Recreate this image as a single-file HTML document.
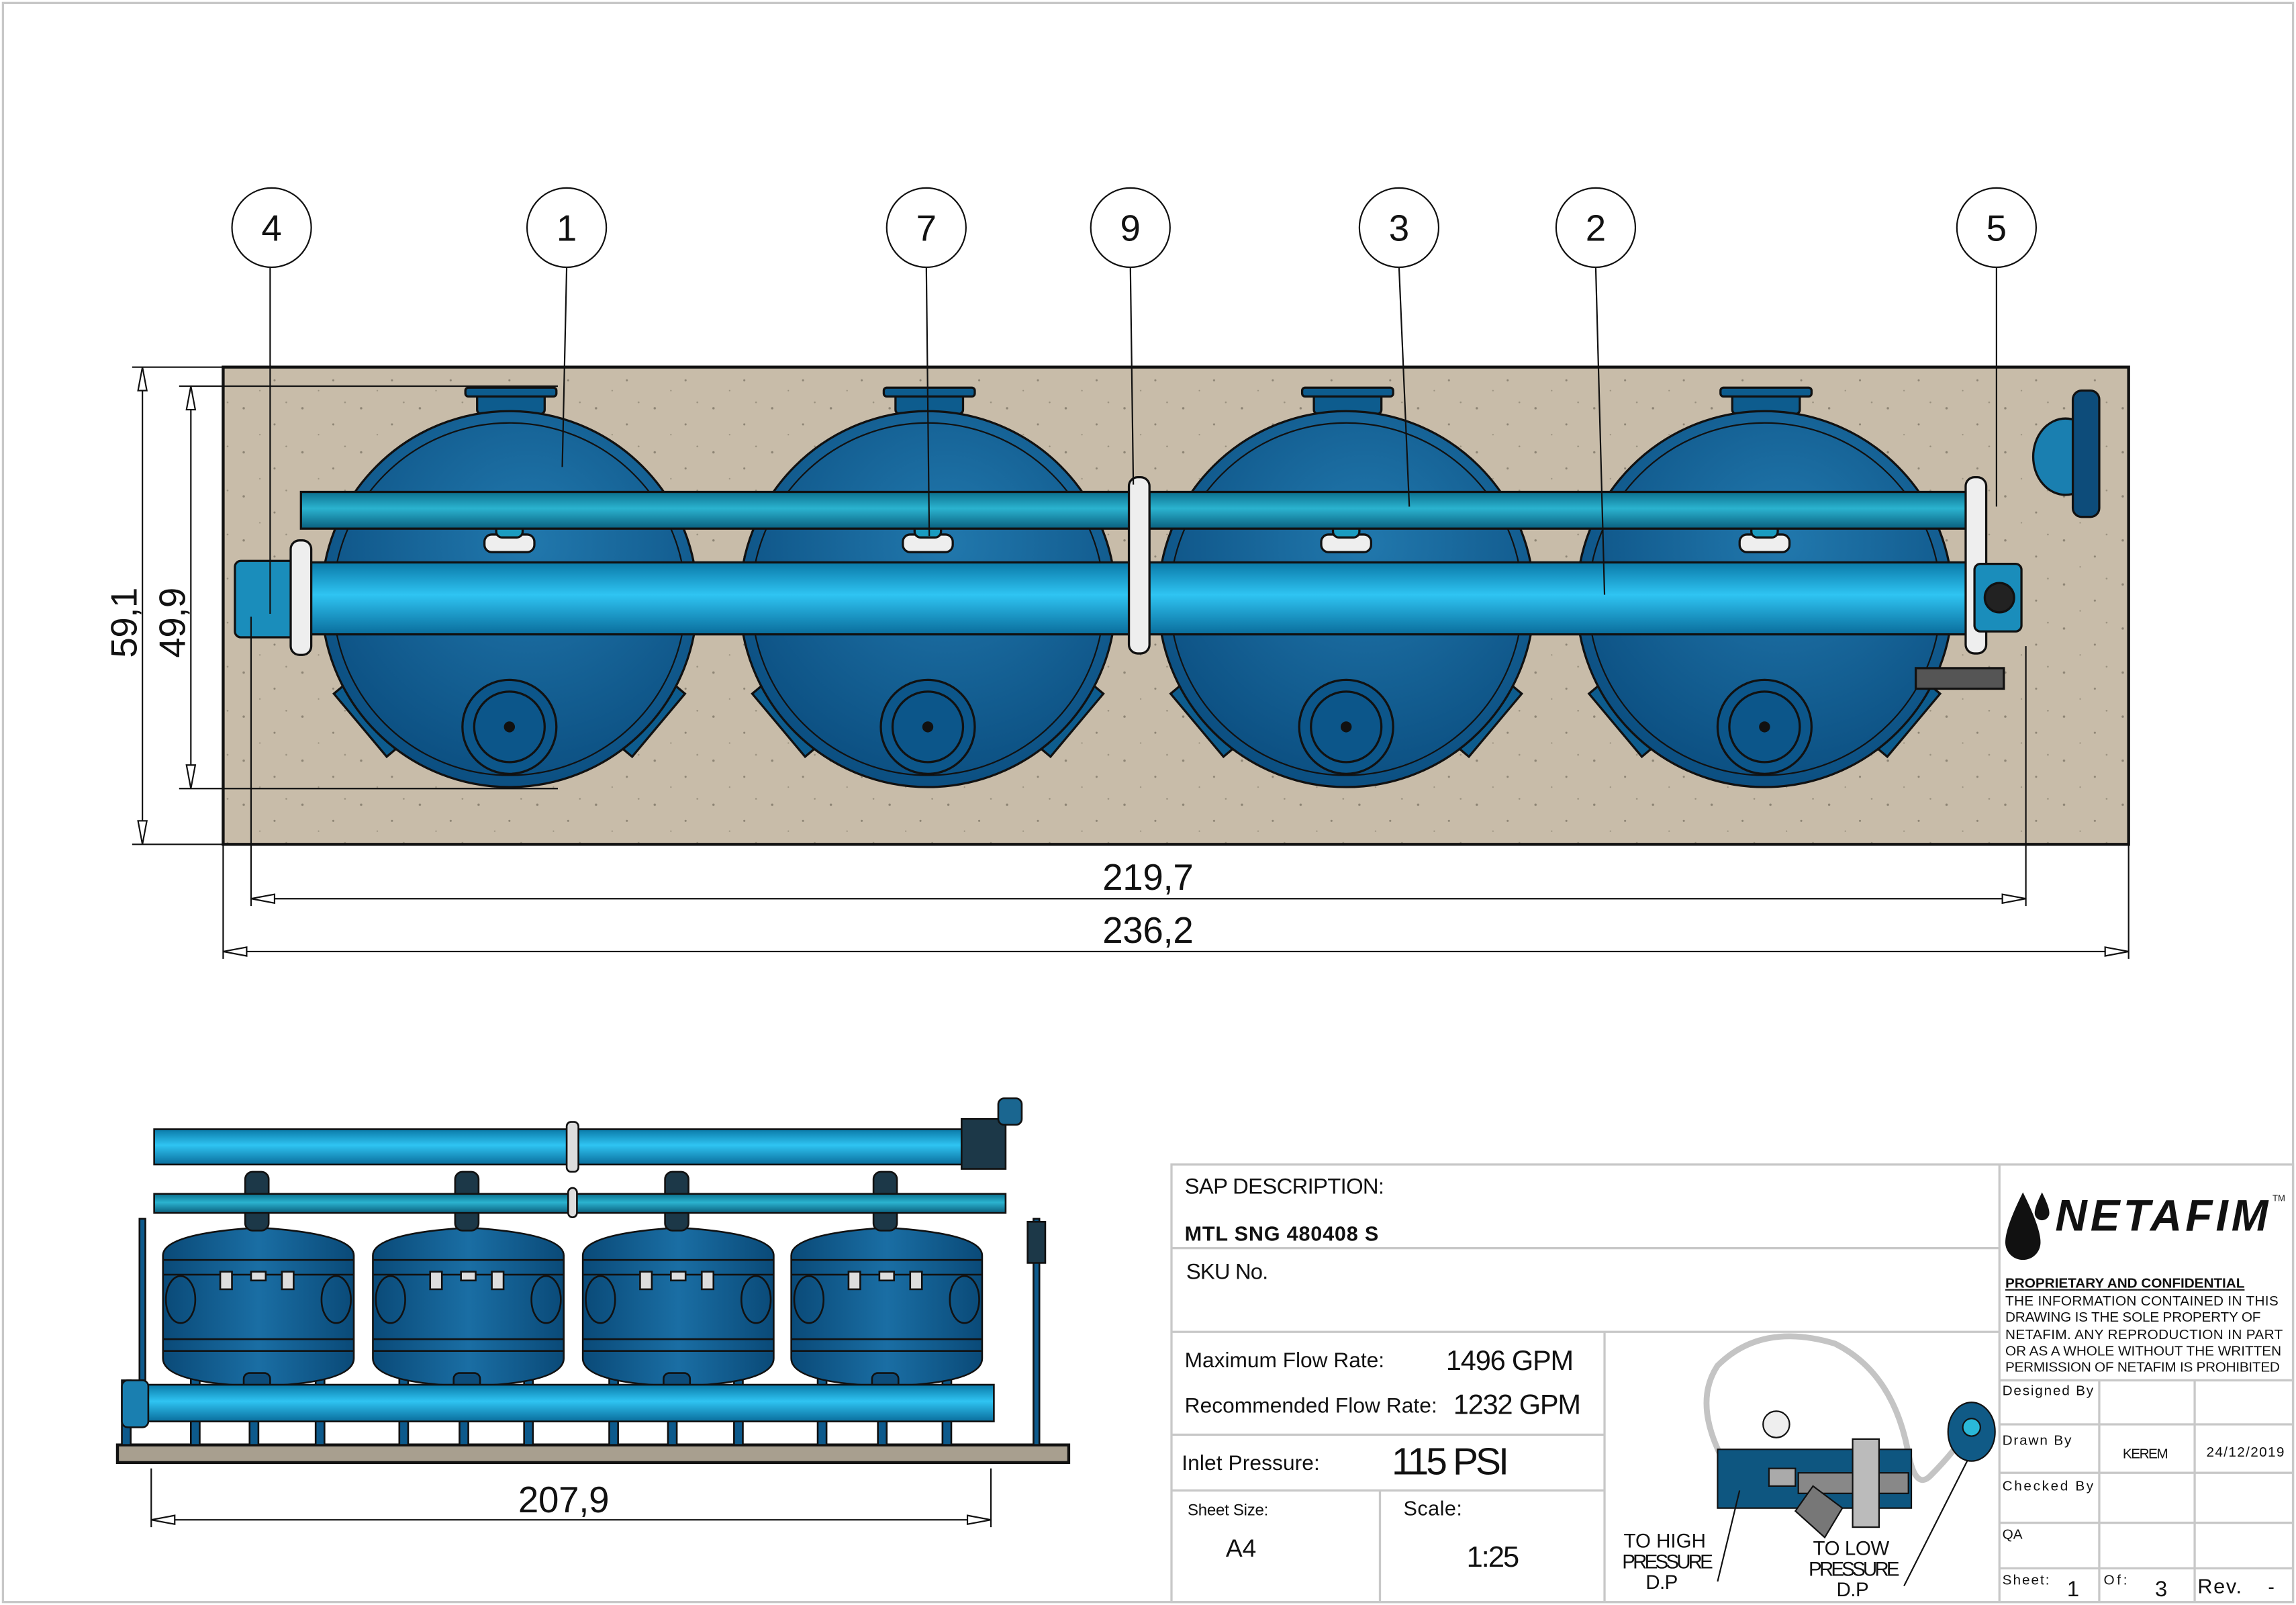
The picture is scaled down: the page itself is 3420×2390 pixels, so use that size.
<!DOCTYPE html>
<html><head><meta charset="utf-8"><style>
html,body{margin:0;padding:0;background:#fff}
svg{display:block}
text{font-family:"Liberation Sans",sans-serif}
</style></head><body>
<svg width="3420" height="2390" viewBox="0 0 1564 1093" xmlns="http://www.w3.org/2000/svg">
<defs>
<radialGradient id="tank" cx="0.55" cy="0.35" r="0.7"><stop offset="0" stop-color="#2178ad"/><stop offset="1" stop-color="#0a4c7e"/></radialGradient>
<linearGradient id="p1" x1="0" y1="0" x2="0" y2="1"><stop offset="0" stop-color="#0b6f8e"/><stop offset="0.45" stop-color="#2bb3cf"/><stop offset="1" stop-color="#0a5f7e"/></linearGradient>
<linearGradient id="p2" x1="0" y1="0" x2="0" y2="1"><stop offset="0" stop-color="#0a79a8"/><stop offset="0.45" stop-color="#2fc4f2"/><stop offset="1" stop-color="#0a6d9c"/></linearGradient>
<linearGradient id="st" x1="0" y1="0" x2="1" y2="0"><stop offset="0" stop-color="#0a4a78"/><stop offset="0.5" stop-color="#1a6ea4"/><stop offset="1" stop-color="#0a4a78"/></linearGradient>
<pattern id="dots" width="40" height="30" patternUnits="userSpaceOnUse"><rect width="40" height="30" fill="#c8bca9"/><circle cx="6" cy="8" r="0.8" fill="#8d8474"/><circle cx="27" cy="19" r="0.7" fill="#8d8474"/><circle cx="17" cy="26" r="0.5" fill="#9a917f"/><circle cx="35" cy="4" r="0.6" fill="#9a917f"/></pattern>
</defs>
<rect x="2" y="2" width="1560" height="1089" fill="none" stroke="#c8c8c8" stroke-width="1.5"/>

<!-- TOP VIEW -->
<rect x="152" y="250" width="1298" height="325" fill="url(#dots)" stroke="#111" stroke-width="2"/>
<g stroke="#111" stroke-width="1.5">
<g id="tk">
<rect x="325" y="266" width="46" height="16" rx="3" fill="#0d5c8e"/>
<rect x="317" y="264" width="62" height="6" rx="2" fill="#0d5c8e"/>
<rect x="-6" y="-28" width="12" height="56" fill="#0d5c8e" transform="translate(250,490) rotate(-40)"/>
<rect x="-6" y="-28" width="12" height="56" fill="#0d5c8e" transform="translate(444,490) rotate(40)"/>
<circle cx="347" cy="408" r="128" fill="url(#tank)"/>
<circle cx="347" cy="408" r="120" fill="none" stroke-width="1"/>
<circle cx="347" cy="495" r="32" fill="#0c568a"/><circle cx="347" cy="495" r="24" fill="none"/>
<circle cx="347" cy="495" r="3" fill="#111"/>
<rect x="330" y="364" width="34" height="12" rx="5" fill="#eee"/>
<rect x="338" y="354" width="18" height="12" rx="4" fill="#1a9cc0"/>
</g>
<use href="#tk" x="285"/><use href="#tk" x="570"/><use href="#tk" x="855"/>
<rect x="205" y="335" width="1140" height="25" fill="url(#p1)"/>
<rect x="200" y="383" width="1145" height="49" fill="url(#p2)"/>
<rect x="160" y="382" width="42" height="52" rx="4" fill="#1a8dbb"/>
<rect x="198" y="368" width="14" height="78" rx="6" fill="#eee"/>
<rect x="769" y="325" width="14" height="120" rx="6" fill="#eee"/>
<rect x="1339" y="325" width="14" height="120" rx="6" fill="#eee"/>
<rect x="1345" y="384" width="32" height="46" rx="4" fill="#1a8dbb"/>
<circle cx="1362" cy="407" r="10" fill="#222"/>
<rect x="1305" y="455" width="60" height="14" fill="#555"/>
<ellipse cx="1407" cy="311" rx="22" ry="26" fill="#1a7fb0"/>
<rect x="1412" y="266" width="18" height="86" rx="6" fill="#0d4c7a"/>
</g>

<!-- balloons & leaders -->
<g stroke="#111" stroke-width="1" fill="none">
<line x1="184" y1="182" x2="184" y2="418"/><line x1="386" y1="182" x2="383" y2="318"/>
<line x1="631" y1="182" x2="633" y2="365"/><line x1="770" y1="182" x2="772" y2="330"/>
<line x1="953" y1="182" x2="960" y2="345"/><line x1="1087" y1="182" x2="1093" y2="405"/>
<line x1="1360" y1="182" x2="1360" y2="345"/>
<g fill="#fff">
<circle cx="185" cy="155" r="27"/><circle cx="386" cy="155" r="27"/><circle cx="631" cy="155" r="27"/>
<circle cx="770" cy="155" r="27"/><circle cx="953" cy="155" r="27"/><circle cx="1087" cy="155" r="27"/><circle cx="1360" cy="155" r="27"/>
</g>
</g>
<g font-size="25" text-anchor="middle" fill="#111">
<text x="185" y="164">4</text><text x="386" y="164">1</text><text x="631" y="164">7</text><text x="770" y="164">9</text><text x="953" y="164">3</text><text x="1087" y="164">2</text><text x="1360" y="164">5</text>
</g>

<!-- dimensions -->
<g stroke="#111" stroke-width="1" fill="none">
<line x1="90" y1="250" x2="152" y2="250"/><line x1="90" y1="575" x2="152" y2="575"/>
<line x1="122" y1="263" x2="380" y2="263"/><line x1="122" y1="537" x2="380" y2="537"/>
<line x1="97" y1="250" x2="97" y2="575"/><line x1="130" y1="263" x2="130" y2="537"/>
<line x1="171" y1="420" x2="171" y2="617"/><line x1="1380" y1="440" x2="1380" y2="617"/>
<line x1="152" y1="575" x2="152" y2="653"/><line x1="1450" y1="575" x2="1450" y2="653"/>
<line x1="171" y1="612" x2="1380" y2="612"/><line x1="152" y1="648" x2="1450" y2="648"/>
<line x1="103" y1="1000" x2="103" y2="1040"/><line x1="675" y1="1000" x2="675" y2="1040"/>
<line x1="103" y1="1035" x2="675" y2="1035"/>
</g>
<g fill="#fff" stroke="#111" stroke-width="1">
<path d="M97 250 l-3 16 l6 0z"/><path d="M97 575 l-3 -16 l6 0z"/>
<path d="M130 263 l-3 16 l6 0z"/><path d="M130 537 l-3 -16 l6 0z"/>
<path d="M171 612 l16 -3 l0 6z"/><path d="M1380 612 l-16 -3 l0 6z"/>
<path d="M152 648 l16 -3 l0 6z"/><path d="M1450 648 l-16 -3 l0 6z"/>
<path d="M103 1035 l16 -3 l0 6z"/><path d="M675 1035 l-16 -3 l0 6z"/>
</g>
<g font-size="25" fill="#111" text-anchor="middle">
<text x="782" y="606" textLength="62">219,7</text><text x="782" y="642" textLength="62">236,2</text><text x="384" y="1030" textLength="62">207,9</text>
<text transform="translate(93,424) rotate(-90)" textLength="48">59,1</text>
<text transform="translate(126,424) rotate(-90)" textLength="48">49,9</text>
</g>

<!-- SIDE VIEW -->
<g stroke="#111" stroke-width="1.2">
<rect x="80" y="984" width="648" height="12" fill="#a89f8f" stroke-width="2"/>
<g fill="#0d5a8c">
<rect x="83" y="940" width="6" height="44"/><rect x="130" y="930" width="6" height="54"/><rect x="215" y="930" width="6" height="54"/>
<rect x="272" y="930" width="6" height="54"/><rect x="357" y="930" width="6" height="54"/>
<rect x="415" y="930" width="6" height="54"/><rect x="500" y="930" width="6" height="54"/>
<rect x="557" y="930" width="6" height="54"/><rect x="642" y="930" width="6" height="54"/>
<rect x="170" y="965" width="6" height="19"/><rect x="313" y="965" width="6" height="19"/><rect x="455" y="965" width="6" height="19"/><rect x="598" y="965" width="6" height="19"/>
<rect x="704" y="830" width="4" height="154"/>
<rect x="95" y="830" width="4" height="110"/>
</g>
<g id="sv">
<path d="M111 855 Q111 840 176 836 Q241 840 241 855 L241 925 Q241 942 176 944 Q111 942 111 925 Z" fill="url(#st)"/>
<line x1="111" y1="858" x2="241" y2="858"/><line x1="111" y1="868" x2="241" y2="868"/><line x1="111" y1="912" x2="241" y2="912"/><line x1="111" y1="920" x2="241" y2="920"/>
<rect x="150" y="866" width="8" height="12" fill="#ddd"/><rect x="192" y="866" width="8" height="12" fill="#ddd"/><rect x="171" y="866" width="10" height="6" fill="#ddd"/>
<ellipse cx="123" cy="885" rx="10" ry="16" fill="none"/><ellipse cx="229" cy="885" rx="10" ry="16" fill="none"/>
<rect x="167" y="798" width="16" height="40" rx="5" fill="#1c3848"/>
<rect x="166" y="935" width="18" height="12" rx="4" fill="#0d4c7a"/>
</g>
<use href="#sv" x="143"/><use href="#sv" x="286"/><use href="#sv" x="428"/>
<rect x="105" y="769" width="557" height="24" fill="url(#p2)"/>
<rect x="105" y="813" width="580" height="13" fill="url(#p1)"/>
<rect x="87" y="943" width="590" height="25" fill="url(#p2)"/>
<rect x="83" y="940" width="18" height="32" rx="4" fill="#1a7fb0"/>
<rect x="386" y="764" width="8" height="34" rx="3" fill="#ddd"/>
<rect x="387" y="809" width="6" height="20" rx="3" fill="#ddd"/>
<rect x="655" y="762" width="30" height="34" fill="#1c3848"/>
<rect x="680" y="748" width="16" height="18" rx="4" fill="#1a6690"/>
<rect x="700" y="832" width="12" height="28" fill="#1c3848"/>
</g>

<!-- TITLE BLOCK -->
<g stroke="#c8c8c8" stroke-width="1.5" fill="none">
<rect x="798" y="793" width="764" height="298"/>
<line x1="798" y1="850" x2="1362" y2="850"/><line x1="798" y1="907" x2="1362" y2="907"/>
<line x1="1093" y1="907" x2="1093" y2="1091"/><line x1="798" y1="977" x2="1093" y2="977"/>
<line x1="798" y1="1015" x2="1093" y2="1015"/><line x1="940" y1="1015" x2="940" y2="1091"/>
<line x1="1362" y1="793" x2="1362" y2="1091"/>
<line x1="1362" y1="940" x2="1562" y2="940"/><line x1="1362" y1="970" x2="1562" y2="970"/>
<line x1="1362" y1="1003" x2="1562" y2="1003"/><line x1="1362" y1="1037" x2="1562" y2="1037"/>
<line x1="1362" y1="1068" x2="1562" y2="1068"/>
<line x1="1430" y1="940" x2="1430" y2="1091"/><line x1="1495" y1="940" x2="1495" y2="1091"/>
</g>
<g fill="#111">
<text x="807" y="813" font-size="15" textLength="136">SAP DESCRIPTION:</text>
<text x="807" y="845" font-size="14" font-weight="bold" textLength="132">MTL SNG 480408 S</text>
<text x="808" y="871" font-size="15" textLength="56">SKU No.</text>
<text x="807" y="931" font-size="14.5" textLength="136">Maximum Flow Rate:</text>
<text x="985" y="933" font-size="19" textLength="87">1496 GPM</text>
<text x="807" y="962" font-size="14.5" textLength="172">Recommended Flow Rate:</text>
<text x="990" y="963" font-size="19" textLength="87">1232 GPM</text>
<text x="805" y="1001" font-size="14.5" textLength="94">Inlet Pressure:</text>
<text x="948" y="1004" font-size="26" textLength="80">115 PSI</text>
<text x="809" y="1032" font-size="11" textLength="55">Sheet Size:</text>
<text x="835" y="1060" font-size="17">A4</text>
<text x="956" y="1032" font-size="14" textLength="40">Scale:</text>
<text x="999" y="1067" font-size="20" textLength="36">1:25</text>
<text x="1106" y="1054" font-size="13.5" textLength="56">TO HIGH</text>
<text x="1105" y="1068" font-size="13.5" textLength="62">PRESSURE</text>
<text x="1121" y="1082" font-size="13.5" textLength="22">D.P</text>
<text x="1235" y="1059" font-size="13.5" textLength="52">TO LOW</text>
<text x="1232" y="1073" font-size="13.5" textLength="62">PRESSURE</text>
<text x="1251" y="1087" font-size="13.5" textLength="22">D.P</text>
<text x="1400" y="838" font-size="30" font-weight="bold" font-style="italic" textLength="145">NETAFIM</text>
<text x="1548" y="818" font-size="6">TM</text>
<path d="M1378 812 q-12 24 -12 34 a12 12 0 0 0 24 0 q0 -10 -12 -34z"/>
<path d="M1391 812 q-5 10 -5 14 a5 5 0 0 0 10 0 q0 -4 -5 -14z"/>
<text x="1366" y="877" font-size="9.5" font-weight="bold" text-decoration="underline" textLength="163">PROPRIETARY AND CONFIDENTIAL</text>
<g font-size="9.5">
<text x="1366" y="889" textLength="186">THE INFORMATION CONTAINED IN THIS</text>
<text x="1366" y="900" textLength="174">DRAWING IS THE SOLE PROPERTY OF</text>
<text x="1366" y="912" textLength="189">NETAFIM. ANY REPRODUCTION IN PART</text>
<text x="1366" y="923" textLength="188">OR AS A WHOLE WITHOUT THE WRITTEN</text>
<text x="1366" y="934" textLength="187">PERMISSION OF NETAFIM IS PROHIBITED</text>
<text x="1364" y="950" textLength="62">Designed By</text>
<text x="1364" y="984" textLength="47">Drawn By</text>
<text x="1446" y="993" textLength="31">KEREM</text>
<text x="1503" y="992" textLength="53">24/12/2019</text>
<text x="1364" y="1015" textLength="62">Checked By</text>
<text x="1364" y="1048">QA</text>
<text x="1364" y="1079" textLength="32">Sheet:</text>
<text x="1433" y="1079" textLength="16">Of:</text>
</g>
<text x="1408" y="1087" font-size="15">1</text>
<text x="1468" y="1087" font-size="15">3</text>
<text x="1497" y="1085" font-size="14" textLength="30">Rev.</text>
<text x="1545" y="1085" font-size="13">-</text>
</g>
<!-- differential pressure sketch -->
<path d="M1183 1010 Q1150 960 1170 930 Q1200 900 1250 915 Q1290 935 1300 990 Q1305 1015 1315 1005 Q1330 990 1340 975" fill="none" stroke="#c4c4c4" stroke-width="4"/>
<g stroke="#111" stroke-width="1">
<rect x="1170" y="987" width="132" height="40" fill="#0e5680"/>
<circle cx="1210" cy="970" r="9" fill="#eee"/>
<rect x="1205" y="1000" width="18" height="12" fill="#aaa"/>
<rect x="1225" y="1003" width="75" height="14" fill="#888"/>
<path d="M1235 1012 l20 15 l-12 20 l-20 -18z" fill="#777"/>
<rect x="1262" y="980" width="18" height="60" fill="#bbb"/>
<ellipse cx="1343" cy="975" rx="16" ry="20" fill="#105a86"/>
<circle cx="1343" cy="972" r="6" fill="#2ab8d8"/>
<line x1="1185" y1="1015" x2="1170" y2="1077"/><line x1="1340" y1="995" x2="1297" y2="1080"/>
</g>
</svg>
</body></html>
